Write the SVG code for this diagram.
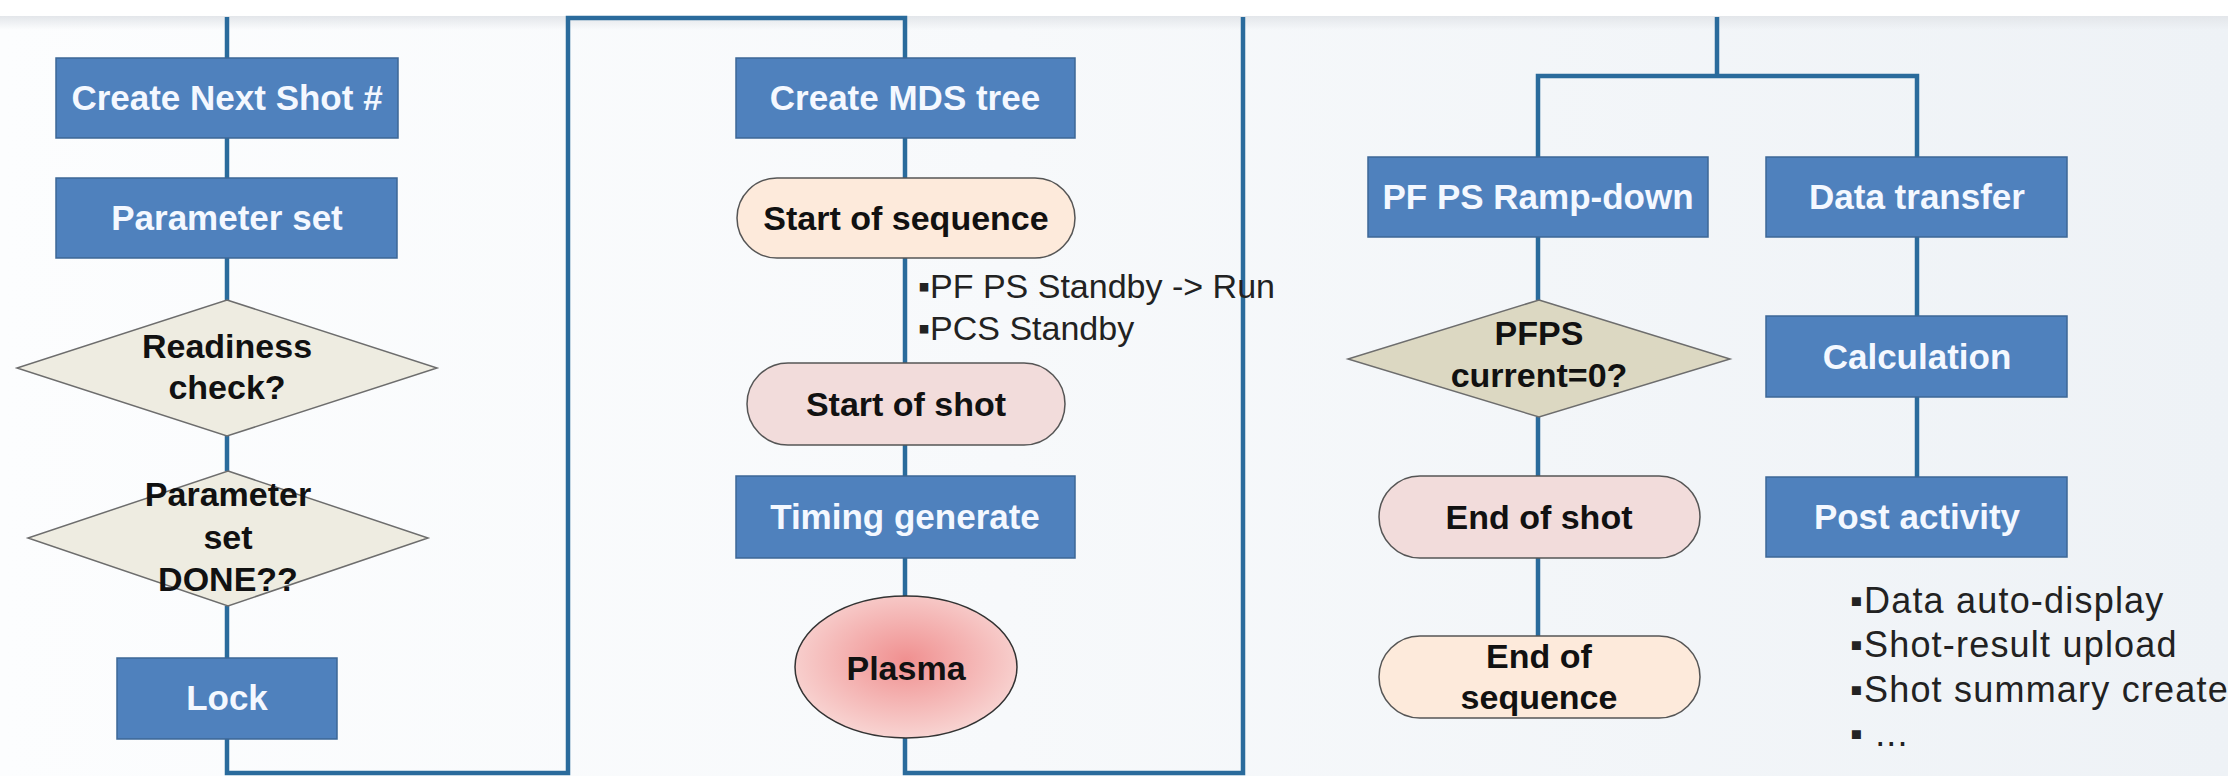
<svg xmlns="http://www.w3.org/2000/svg" width="2228" height="776" viewBox="0 0 2228 776">
  <defs>
    <linearGradient id="bg" x1="0" y1="0" x2="1" y2="0">
      <stop offset="0" stop-color="#fcfdfe"/>
      <stop offset="0.45" stop-color="#f7f9fb"/>
      <stop offset="1" stop-color="#eef2f6"/>
    </linearGradient>
    <linearGradient id="topShade" x1="0" y1="0" x2="0" y2="1">
      <stop offset="0" stop-color="#e3e6ea"/>
      <stop offset="1" stop-color="#e3e6ea" stop-opacity="0"/>
    </linearGradient>
    <radialGradient id="plasmaFill" cx="0.5" cy="0.45" r="0.55">
      <stop offset="0" stop-color="#f09090"/>
      <stop offset="1" stop-color="#f8d4d2"/>
    </radialGradient>
  </defs>
  <style>
    .proc { fill: #4f81bd; stroke: #3d6796; stroke-width: 1.5; }
    .proc-t { fill: #f4f8ff; font-family: "Liberation Sans", Arial, sans-serif; font-weight: bold; font-size: 35px; text-anchor: middle; }
    .dec { fill: #eeece1; stroke: #6d6d6d; stroke-width: 1.5; }
    .dec2 { fill: #dcd8c2; stroke: #6d6d6d; stroke-width: 1.5; }
    .seq { fill: #fdeadb; stroke: #555; stroke-width: 1.5; }
    .shot { fill: #f2dcdb; stroke: #555; stroke-width: 1.5; }
    .dark-t { fill: #111; font-family: "Liberation Sans", Arial, sans-serif; font-weight: bold; font-size: 34px; text-anchor: middle; }
    .note { fill: #222; font-family: "Liberation Sans", Arial, sans-serif; font-size: 34px; }
    .note-r { fill: #222; font-family: "Liberation Sans", Arial, sans-serif; font-size: 36px; letter-spacing: 1.2px; }
    .wire { fill: none; stroke: #2a6b9c; stroke-width: 4.5; stroke-linejoin: miter; }
  </style>

  <!-- page -->
  <rect x="0" y="0" width="2228" height="776" fill="url(#bg)"/>
  <rect x="0" y="0" width="2228" height="16" fill="#ffffff"/>
  <rect x="0" y="16" width="2228" height="14" fill="url(#topShade)"/>

  <!-- connectors -->
  <g id="connectors" class="wire">
    <!-- left column -->
    <path d="M227 17 V58"/>
    <path d="M227 138 V178"/>
    <path d="M227 258 V300"/>
    <path d="M227 436 V471"/>
    <path d="M227 606 V658"/>
    <path d="M227 739 V773 H568 V18 H905 V58"/>
    <!-- middle column -->
    <path d="M905 138 V178"/>
    <path d="M905 258 V363"/>
    <path d="M905 445 V476"/>
    <path d="M905 558 V596"/>
    <path d="M905 738 V773 H1243 V17"/>
    <!-- right columns -->
    <path d="M1717 17 V76"/>
    <path d="M1538 157 V76 H1917 V157"/>
    <path d="M1538 237 V300"/>
    <path d="M1538 417 V476"/>
    <path d="M1538 558 V636"/>
    <path d="M1917 237 V316"/>
    <path d="M1917 397 V477"/>
  </g>

  <!-- left column -->
  <g id="create-next-shot">
    <rect class="proc" x="56" y="58" width="342" height="80"/>
    <text class="proc-t" x="227" y="110">Create Next Shot #</text>
  </g>
  <g id="parameter-set">
    <rect class="proc" x="56" y="178" width="341" height="80"/>
    <text class="proc-t" x="227" y="230">Parameter set</text>
  </g>
  <g id="readiness-check">
    <polygon class="dec" points="227,300 437,368 227,436 17,368"/>
    <text class="dark-t" x="227" y="358">Readiness</text>
    <text class="dark-t" x="227" y="399">check?</text>
  </g>
  <g id="parameter-done">
    <polygon class="dec" points="228,471 428,538 228,606 28,538"/>
    <text class="dark-t" x="228" y="506">Parameter</text>
    <text class="dark-t" x="228" y="549">set</text>
    <text class="dark-t" x="228" y="591">DONE??</text>
  </g>
  <g id="lock">
    <rect class="proc" x="117" y="658" width="220" height="81"/>
    <text class="proc-t" x="227" y="710">Lock</text>
  </g>

  <!-- middle column -->
  <g id="create-mds-tree">
    <rect class="proc" x="736" y="58" width="339" height="80"/>
    <text class="proc-t" x="905" y="110">Create MDS tree</text>
  </g>
  <g id="start-of-sequence">
    <rect class="seq" x="737" y="178" width="338" height="80" rx="40" ry="40"/>
    <text class="dark-t" x="906" y="230">Start of sequence</text>
  </g>
  <g id="sequence-notes">
    <text class="note" x="918" y="298">▪PF PS Standby -&gt; Run</text>
    <text class="note" x="918" y="340">▪PCS Standby</text>
  </g>
  <g id="start-of-shot">
    <rect class="shot" x="747" y="363" width="318" height="82" rx="41" ry="41"/>
    <text class="dark-t" x="906" y="416">Start of shot</text>
  </g>
  <g id="timing-generate">
    <rect class="proc" x="736" y="476" width="339" height="82"/>
    <text class="proc-t" x="905" y="529">Timing generate</text>
  </g>
  <g id="plasma">
    <ellipse cx="906" cy="667" rx="111" ry="71" fill="url(#plasmaFill)" stroke="#333" stroke-width="1.5"/>
    <text class="dark-t" x="906" y="680" font-size="35">Plasma</text>
  </g>

  <!-- right side: power supply branch -->
  <g id="pfps-ramp-down">
    <rect class="proc" x="1368" y="157" width="340" height="80"/>
    <text class="proc-t" x="1538" y="209">PF PS Ramp-down</text>
  </g>
  <g id="pfps-current-zero">
    <polygon class="dec2" points="1539,300 1730,359 1539,417 1348,359"/>
    <text class="dark-t" x="1539" y="345">PFPS</text>
    <text class="dark-t" x="1539" y="387">current=0?</text>
  </g>
  <g id="end-of-shot">
    <rect class="shot" x="1379" y="476" width="321" height="82" rx="41" ry="41"/>
    <text class="dark-t" x="1539" y="529">End of shot</text>
  </g>
  <g id="end-of-sequence">
    <rect class="seq" x="1379" y="636" width="321" height="82" rx="41" ry="41"/>
    <text class="dark-t" x="1539" y="668">End of</text>
    <text class="dark-t" x="1539" y="709">sequence</text>
  </g>

  <!-- right side: data branch -->
  <g id="data-transfer">
    <rect class="proc" x="1766" y="157" width="301" height="80"/>
    <text class="proc-t" x="1917" y="209">Data transfer</text>
  </g>
  <g id="calculation">
    <rect class="proc" x="1766" y="316" width="301" height="81"/>
    <text class="proc-t" x="1917" y="369">Calculation</text>
  </g>
  <g id="post-activity">
    <rect class="proc" x="1766" y="477" width="301" height="80"/>
    <text class="proc-t" x="1917" y="529">Post activity</text>
  </g>
  <g id="post-activity-notes">
    <text class="note-r" x="1850" y="613">▪Data auto-display</text>
    <text class="note-r" x="1850" y="657">▪Shot-result upload</text>
    <text class="note-r" x="1850" y="702">▪Shot summary create</text>
    <text class="note-r" x="1850" y="746">▪ ...</text>
  </g>
</svg>
